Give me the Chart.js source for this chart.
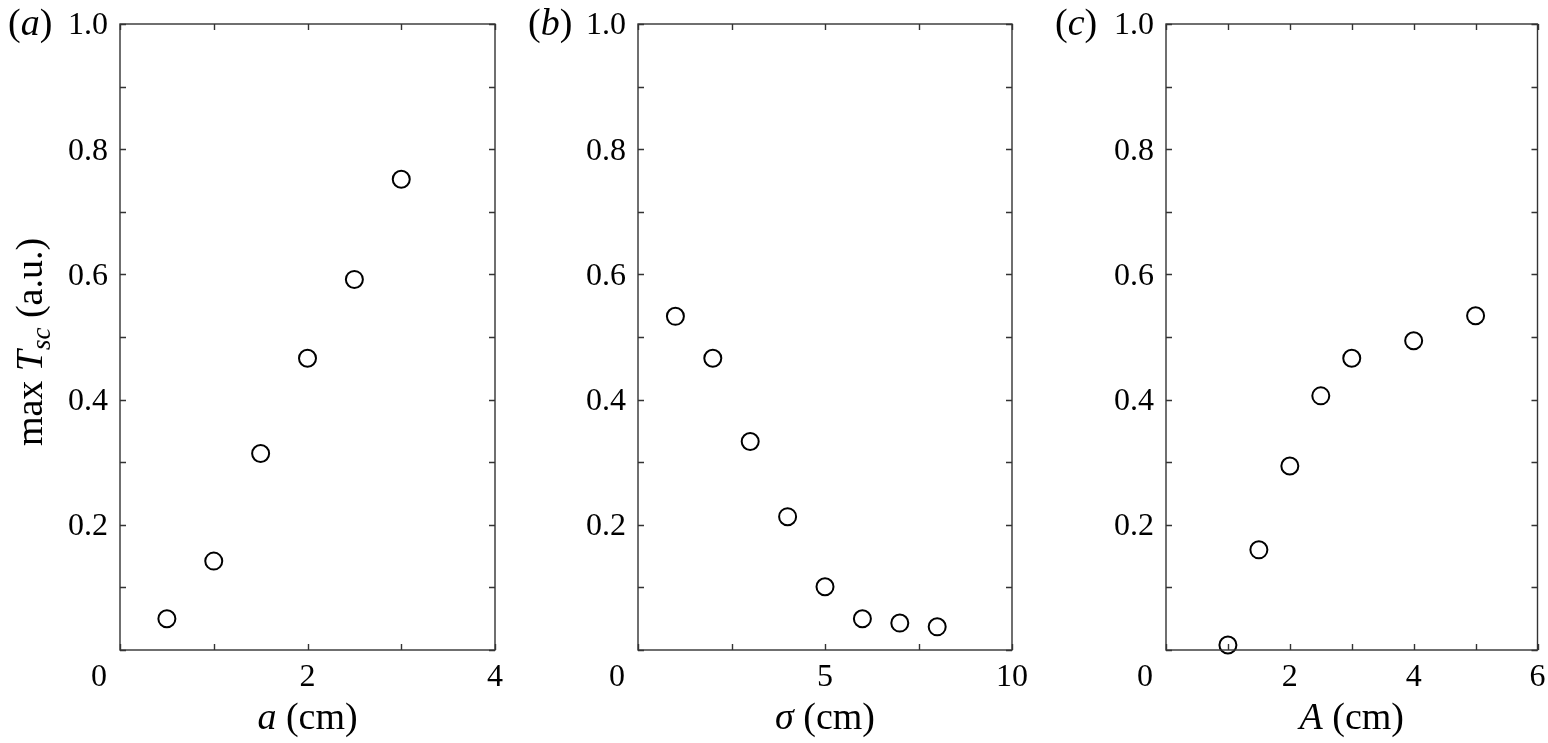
<!DOCTYPE html>
<html>
<head>
<meta charset="utf-8">
<script src="https://cdn.jsdelivr.net/npm/chart.js@4.4.1/dist/chart.umd.min.js"></script>
<style>
  html, body { margin: 0; padding: 0; background: #fff; }
  body { width: 1548px; height: 743px; position: relative; overflow: hidden; }
  canvas { position: absolute; top: 0; }
</style>
</head>
<body>
<canvas id="c1" width="520" height="743" style="left:0px"></canvas>
<canvas id="c2" width="520" height="743" style="left:520px"></canvas>
<canvas id="c3" width="508" height="743" style="left:1040px"></canvas>
<script>
// data
const aValues = [0.5, 1, 1.5, 2, 2.5, 3];
const aTsc = [0.05, 0.142, 0.314, 0.466, 0.592, 0.752];

const sigmaValues = [1, 2, 3, 4, 5, 6, 7, 8];
const sigmaTsc = [0.533, 0.466, 0.333, 0.213, 0.101, 0.05, 0.043, 0.037];

const ampValues = [1, 1.5, 2, 2.5, 3, 4, 5];
const ampTsc = [0.008, 0.16, 0.294, 0.406, 0.466, 0.494, 0.534];

// axes
const yTicks = [0, 0.1, 0.2, 0.3, 0.4, 0.5, 0.6, 0.7, 0.8, 0.9, 1.0];
const yTickLabels = ['', '', '0.2', '', '0.4', '', '0.6', '', '0.8', '', '1.0'];

const aTicks = [0, 1, 2, 3, 4];
const aTickLabels = ['0', '', '2', '', '4'];
const sigmaTicks = [0, 2.5, 5, 7.5, 10];
const sigmaTickLabels = ['0', '', '5', '', '10'];
const ampTicks = [0, 1, 2, 3, 4, 5, 6];
const ampTickLabels = ['0', '', '2', '', '4', '', '6'];

const SERIF = '"Liberation Serif", "Times New Roman", serif';
const FRAME = '#333333';

// draw a run of [text, italic, size, dy] pieces starting at x
const drawRuns = (ctx, runs, x, y) => {
  runs.forEach(([txt, italic, size, dy]) => {
    ctx.font = (italic ? 'italic ' : '') + size + 'px ' + SERIF;
    ctx.fillText(txt, x, y + (dy || 0));
    x += ctx.measureText(txt).width;
  });
};
const runsWidth = (ctx, runs) => runs.reduce((w, [txt, italic, size]) => {
  ctx.font = (italic ? 'italic ' : '') + size + 'px ' + SERIF;
  return w + ctx.measureText(txt).width;
}, 0);

// MATLAB-like box, inward ticks and all text
const matlabAxes = {
  id: 'matlabAxes',
  afterDraw(chart, args, opts) {
    const ctx = chart.ctx;
    const area = chart.chartArea;
    const xs = chart.scales.x, ys = chart.scales.y;
    const tick = 6;
    ctx.save();
    ctx.strokeStyle = FRAME;
    ctx.lineWidth = 1.4;
    ctx.strokeRect(area.left, area.top, area.right - area.left, area.bottom - area.top);

    ctx.beginPath();
    opts.xTicks.forEach(v => {
      const px = Math.round(xs.getPixelForValue(v)) + 0.5;
      ctx.moveTo(px, area.bottom); ctx.lineTo(px, area.bottom - tick);
      ctx.moveTo(px, area.top); ctx.lineTo(px, area.top + tick);
    });
    yTicks.forEach(v => {
      const py = Math.round(ys.getPixelForValue(v)) + 0.5;
      ctx.moveTo(area.left, py); ctx.lineTo(area.left + tick, py);
      ctx.moveTo(area.right, py); ctx.lineTo(area.right - tick, py);
    });
    ctx.stroke();

    ctx.fillStyle = '#000';
    ctx.font = '32px ' + SERIF;
    // y tick labels
    ctx.textAlign = 'right';
    ctx.textBaseline = 'middle';
    yTicks.forEach((v, i) => {
      if (yTickLabels[i]) ctx.fillText(yTickLabels[i], area.left - 12, ys.getPixelForValue(v) + 2);
    });
    // x tick labels (the 0 is pushed left, clear of the y axis)
    ctx.textAlign = 'center';
    opts.xTicks.forEach((v, i) => {
      const lbl = opts.xTickLabels[i];
      if (!lbl) return;
      const shift = i === 0 ? -21 : 0;
      ctx.fillText(lbl, xs.getPixelForValue(v) + shift, area.bottom + 28);
    });

    // x title
    ctx.textAlign = 'left';
    ctx.textBaseline = 'alphabetic';
    const cx = (area.left + area.right) / 2;
    const w = runsWidth(ctx, opts.xTitle);
    drawRuns(ctx, opts.xTitle, cx - w / 2, area.bottom + 79);

    // panel letter
    drawRuns(ctx, opts.panel, opts.panelX, 35);

    // y title on the first panel
    if (opts.yTitle) {
      ctx.save();
      ctx.translate(42, 342);
      ctx.rotate(-Math.PI / 2);
      const wy = runsWidth(ctx, opts.yTitle);
      drawRuns(ctx, opts.yTitle, -wy / 2, 0);
      ctx.restore();
    }
    ctx.restore();
  }
};

const makeChart = (id, xs, ys, xMax, pad, plugOpts) => new Chart(document.getElementById(id), {
  type: 'scatter',
  data: {
    datasets: [{
      data: xs.map((x, i) => ({ x: x, y: ys[i] })),
      pointStyle: 'circle',
      pointRadius: 8.5,
      pointHoverRadius: 8.5,
      pointBorderWidth: 2,
      borderColor: '#000',
      backgroundColor: 'rgba(0,0,0,0)',
      pointBackgroundColor: 'rgba(0,0,0,0)',
      showLine: false,
      clip: false
    }]
  },
  options: {
    responsive: false,
    animation: false,
    events: [],
    layout: { padding: pad },
    plugins: {
      legend: { display: false },
      tooltip: { enabled: false },
      matlabAxes: plugOpts
    },
    scales: {
      x: { type: 'linear', min: 0, max: xMax, display: false },
      y: { type: 'linear', min: 0, max: 1, display: false }
    }
  },
  plugins: [matlabAxes]
});

makeChart('c1', aValues, aTsc, 4,
  { left: 120, right: 25, top: 24, bottom: 93 },
  {
    xTicks: aTicks, xTickLabels: aTickLabels,
    xTitle: [['a', true, 38], [' (cm)', false, 38]],
    panel: [['(', false, 38], ['a', true, 38], [')', false, 38]], panelX: 8,
    yTitle: [['max ', false, 38], ['T', true, 38], ['sc', true, 27, 8], [' (a.u.)', false, 38]]
  });

makeChart('c2', sigmaValues, sigmaTsc, 10,
  { left: 118, right: 28, top: 24, bottom: 93 },
  {
    xTicks: sigmaTicks, xTickLabels: sigmaTickLabels,
    xTitle: [['σ', true, 38], [' (cm)', false, 38]],
    panel: [['(', false, 38], ['b', true, 38], [')', false, 38]], panelX: 8
  });

makeChart('c3', ampValues, ampTsc, 6,
  { left: 126, right: 9, top: 24, bottom: 93 },
  {
    xTicks: ampTicks, xTickLabels: ampTickLabels,
    xTitle: [['A', true, 38], [' (cm)', false, 38]],
    panel: [['(', false, 38], ['c', true, 38], [')', false, 38]], panelX: 15
  });
</script>
</body>
</html>
